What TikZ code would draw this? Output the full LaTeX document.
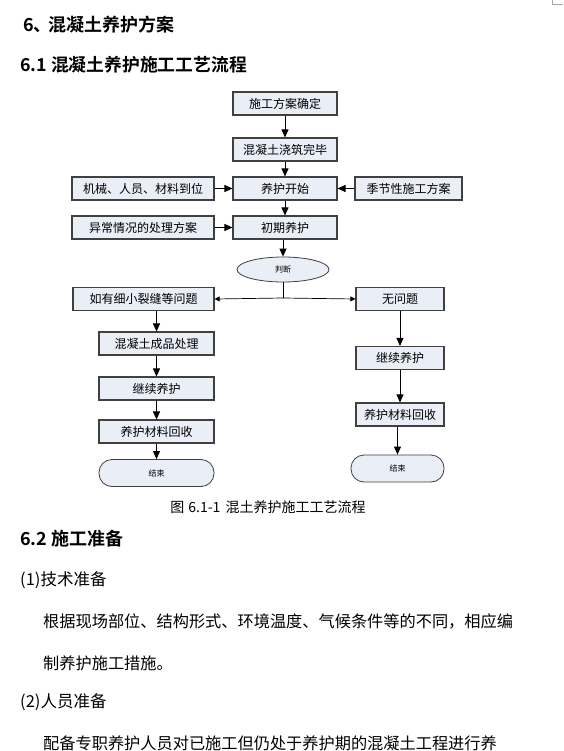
\documentclass[tikz,border=0pt]{standalone}
\usepackage{fontspec}
\setmainfont{Liberation Serif}
\newfontfamily\cjk{Noto Sans CJK SC}
\newfontfamily\cjkb{Noto Sans CJK SC Bold}
\usetikzlibrary{arrows.meta,shapes.geometric,calc}
\definecolor{boxfill}{HTML}{E9EEF7}
\definecolor{boxline}{HTML}{404040}
\tikzset{
  flowbox/.style={draw=boxline,line width=1.1pt,fill=boxfill,minimum height=23pt,inner sep=0pt,font=\cjk\fontsize{12}{12}\selectfont},
  endbox/.style={draw=boxline,line width=0.8pt,fill=boxfill,rounded corners=13pt,minimum height=27pt,inner sep=0pt,font=\cjk\fontsize{8}{8}\selectfont},
  judgebox/.style={ellipse,draw=boxline,line width=0.8pt,fill=boxfill,minimum width=92pt,minimum height=25pt,inner sep=0pt,font=\cjk\fontsize{8}{8}\selectfont},
  flowarrow/.style={draw=black,line width=0.9pt,-{Triangle[length=8pt,width=7pt]}},
  thinarrow/.style={draw=black,line width=0.7pt,-{Triangle[length=5pt,width=5pt]}},
  heading/.style={anchor=west,inner sep=0pt,font=\cjkb\fontsize{18}{18}\selectfont},
  bodytext/.style={anchor=west,inner sep=0pt,font=\cjk\fontsize{16.5}{16.5}\selectfont},
  paratext/.style={anchor=west,inner sep=0pt,font=\cjk\fontsize{16.2}{16.2}\selectfont},
}
\begin{document}
\begin{tikzpicture}[x=1pt,y=-1pt]
\useasboundingbox (0,0) rectangle (563,751);
\fill[white] (0,0) rectangle (563,751);
% corner mark
\draw[gray!70,line width=0.5pt] (552,0) -- (552,4.5) -- (563,4.5);
% headings
\node[heading] (h1) at (23,25) {6、\kern-3pt 混凝土养护方案};
\node[heading,font=\cjkb\fontsize{17.8}{17.8}\selectfont] (h2) at (20,65) {6.1 混凝土养护施工工艺流程};
% flow chart
\node[flowbox,minimum width=104pt] (a1) at (285,103.5) {施工方案确定};
\node[flowbox,minimum width=104pt] (a2) at (285,149.5) {混凝土浇筑完毕};
\node[flowbox,minimum width=104pt] (a3) at (285,188.5) {养护开始};
\node[flowbox,minimum width=142pt] (l1) at (143,188.5) {机械、人员、材料到位};
\node[flowbox,minimum width=107pt] (r1) at (408.5,188.5) {季节性施工方案};
\node[flowbox,minimum width=142pt] (l2) at (143,227.5) {异常情况的处理方案};
\node[flowbox,minimum width=104pt] (a4) at (285,227.5) {初期养护};
\node[judgebox] (j) at (283,269.5) {判断};
\coordinate (jn) at (283,298);
\node[flowbox,minimum width=141pt] (p1) at (143.5,299) {如有细小裂缝等问题};
\node[flowbox,minimum width=88pt] (n1) at (400,299) {无问题};
\node[flowbox,minimum width=115pt] (p2) at (156.5,343.5) {混凝土成品处理};
\node[flowbox,minimum width=115pt] (p3) at (156.5,388.5) {继续养护};
\node[flowbox,minimum width=115pt] (p4) at (156.5,431.5) {养护材料回收};
\node[endbox,minimum width=115pt] (p5) at (156.5,473) {结束};
\node[flowbox,minimum width=88pt] (n2) at (400,358) {继续养护};
\node[flowbox,minimum width=88pt] (n3) at (400,414.5) {养护材料回收};
\node[endbox,minimum width=93pt] (n4) at (397.5,468.5) {结束};
\node[inner sep=0pt,font=\cjk\fontsize{14}{14}\selectfont] (cap) at (268,507) {图\kern4pt 6.1-1\kern2pt{} 混土养护施工工艺流程};
% connectors
\draw[flowarrow] (a1) -- (a2);
\draw[flowarrow] (a2) -- (a3);
\draw[flowarrow] (l1) -- (a3);
\draw[flowarrow] (r1) -- (a3);
\draw[flowarrow] (a3) -- (a4);
\draw[flowarrow] (l2) -- (a4);
\draw[flowarrow] (a4.south -| j.north) -- (j.north);
\draw[line width=0.8pt] (j.south) -- (jn);
\draw[thinarrow] (jn) -- (p1.east);
\draw[thinarrow] (jn) -- (n1.west);
\draw[flowarrow] (p1.south -| p2.north) -- (p2.north);
\draw[flowarrow] (p2) -- (p3);
\draw[flowarrow] (p3) -- (p4);
\draw[flowarrow] (p4) -- (p5);
\draw[flowarrow] (n1) -- (n2);
\draw[flowarrow] (n2) -- (n3);
\draw[flowarrow] (n3.south -| n4.north) -- (n4.north);
% section 6.2
\node[heading] (h3) at (20,539) {6.2 施工准备};
\node[bodytext] (t1) at (20,580) {(1)技术准备};
\node[paratext] (t2) at (43,621) {根据现场部位、结构形式、环境温度、气候条件等的不同，相应编};
\node[paratext] (t3) at (43,663) {制养护施工措施。};
\node[bodytext] (t4) at (20,702) {(2)人员准备};
\node[paratext] (t5) at (43,743) {配备专职养护人员对已施工但仍处于养护期的混凝土工程进行养};
\end{tikzpicture}
\end{document}
